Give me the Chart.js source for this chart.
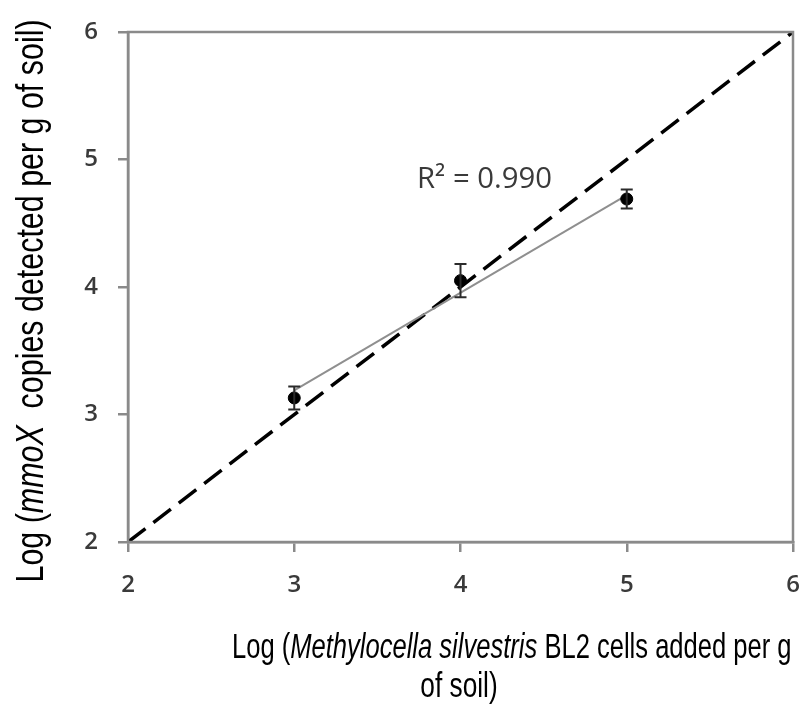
<!DOCTYPE html>
<html lang="en">
<head>
<meta charset="UTF-8">
<title>mmoX qPCR recovery</title>
<script src="https://cdn.jsdelivr.net/npm/chart.js"></script>
<style>
  html, body { margin: 0; padding: 0; background: #fff; }
  #wrap { width: 803px; height: 704px; }
</style>
</head>
<body>
<div id="wrap"><canvas id="chart1"></canvas></div>
<script>
// data
const cellsAdded = [3, 4, 5];               // log cells added per g soil
const copiesFound = [3.13, 4.05, 4.69];     // log mmoX copies detected
const copiesErr = [0.09, 0.13, 0.075];      // error bar half-lengths
const trendX = [3, 5];
const trendY = [3.19, 4.72];
const oneToOneX = [2, 6];
const oneToOneY = [2, 6];
const axisTicks = [2, 3, 4, 5, 6];
const r2Label = 'R² = 0.990';

const boxGray = '#8a8a8a';

function toPoints(xs, ys) {
    return xs.map((x, i) => ({ x: x, y: ys[i] }));
}

// draw a line of text made of pieces (some italic), squeezed horizontally
function drawPieces(ctx, pieces, x, y, size, sx, align) {
    let total = 0;
    pieces.forEach(p => {
        ctx.font = (p.it ? 'italic ' : '') + size + 'px "Liberation Sans", Arial, sans-serif';
        total += ctx.measureText(p.t).width;
    });
    ctx.save();
    ctx.translate(x, y);
    ctx.scale(sx, 1);
    let cx = align === 'center' ? -total / 2 : 0;
    ctx.textBaseline = 'alphabetic';
    ctx.textAlign = 'left';
    pieces.forEach(p => {
        ctx.font = (p.it ? 'italic ' : '') + size + 'px "Liberation Sans", Arial, sans-serif';
        ctx.fillText(p.t, cx, 0);
        cx += ctx.measureText(p.t).width;
    });
    ctx.restore();
}

const extras = {
    id: 'extras',
    afterDatasetsDraw(chart) {
        const ctx = chart.ctx;
        const xs = chart.scales.x, ys = chart.scales.y;
        const a = chart.chartArea;
        // box round the plot
        ctx.save();
        ctx.strokeStyle = boxGray;
        ctx.lineWidth = 2.5;
        ctx.strokeRect(a.left, a.top, a.right - a.left, a.bottom - a.top);
        ctx.restore();

        // error bars
        ctx.save();
        ctx.strokeStyle = '#2b2b2b';
        ctx.lineWidth = 2;
        cellsAdded.forEach((cx, i) => {
            const px = xs.getPixelForValue(cx);
            const top = ys.getPixelForValue(copiesFound[i] + copiesErr[i]);
            const bot = ys.getPixelForValue(copiesFound[i] - copiesErr[i]);
            ctx.beginPath();
            ctx.moveTo(px, top); ctx.lineTo(px, bot);
            ctx.moveTo(px - 6, top); ctx.lineTo(px + 6, top);
            ctx.moveTo(px - 6, bot); ctx.lineTo(px + 6, bot);
            ctx.stroke();
        });
        ctx.restore();
    },
    afterDraw(chart) {
        const ctx = chart.ctx;
        ctx.save();
        ctx.fillStyle = '#000';
        // x axis title, two lines
        drawPieces(ctx, [
            { t: 'Log (' },
            { t: 'Methylocella silvestris', it: true },
            { t: ' BL2 cells added per g' }
        ], 232, 658, 35, 0.73, 'left');
        drawPieces(ctx, [{ t: 'of soil)' }], 459, 697, 35, 0.75, 'center');

        // y axis title, rotated
        ctx.save();
        ctx.translate(43, 301);
        ctx.rotate(-Math.PI / 2);
        drawPieces(ctx, [
            { t: 'Log (' },
            { t: 'mmoX', it: true },
            { t: '  copies detected per g of soil)' }
        ], 0, 0, 39, 0.78, 'center');
        ctx.restore();

        // R squared note
        ctx.fillStyle = '#3a3a3a';
        ctx.font = '500 30px "Open Sans", sans-serif';
        ctx.textAlign = 'left';
        ctx.textBaseline = 'alphabetic';
        ctx.save();
        ctx.translate(417, 188);
        const w = ctx.measureText(r2Label).width;
        ctx.scale(135 / w, 1);
        ctx.fillText(r2Label, 0, 0);
        ctx.restore();
        ctx.restore();
    }
};

new Chart(document.getElementById('chart1').getContext('2d'), {
    type: 'scatter',
    data: {
        datasets: [
            {
                label: '1:1',
                data: toPoints(oneToOneX, oneToOneY),
                showLine: true,
                borderColor: '#000',
                borderWidth: 3.5,
                borderDash: [22, 10],
                pointRadius: 0,
                order: 3
            },
            {
                label: 'fit',
                data: toPoints(trendX, trendY),
                showLine: true,
                borderColor: '#8f8f8f',
                borderWidth: 2,
                pointRadius: 0,
                order: 2
            },
            {
                label: 'detected',
                data: toPoints(cellsAdded, copiesFound),
                backgroundColor: '#000',
                borderColor: '#000',
                pointRadius: 6,
                order: 1
            }
        ]
    },
    options: {
        responsive: true,
        maintainAspectRatio: false,
        animation: false,
        layout: { padding: { top: 32, right: 10, left: 0, bottom: 0 } },
        plugins: {
            legend: { display: false },
            tooltip: { enabled: false }
        },
        scales: {
            x: {
                type: 'linear',
                min: 2, max: 6,
                afterBuildTicks: s => { s.ticks = axisTicks.map(v => ({ value: v })); },
                afterFit: s => { s.height = 162; s.paddingLeft = 0; s.paddingRight = 0; },
                ticks: { font: { family: 'Open Sans', size: 24, weight: '600' }, color: '#3a3a3a', padding: 19 },
                grid: { drawOnChartArea: false, drawTicks: true, tickLength: 10, color: boxGray, lineWidth: 2.5 },
                border: { display: true, color: boxGray, width: 2.5 }
            },
            y: {
                type: 'linear',
                min: 2, max: 6,
                afterBuildTicks: s => { s.ticks = axisTicks.map(v => ({ value: v })); },
                afterFit: s => { s.width = 128; s.paddingTop = 0; s.paddingBottom = 0; },
                ticks: { font: { family: 'Open Sans', size: 24, weight: '600' }, color: '#3a3a3a', padding: 20 },
                grid: { drawOnChartArea: false, drawTicks: true, tickLength: 10, color: boxGray, lineWidth: 2.5 },
                border: { display: true, color: boxGray, width: 2.5 }
            }
        }
    },
    plugins: [extras]
});
</script>
</body>
</html>
